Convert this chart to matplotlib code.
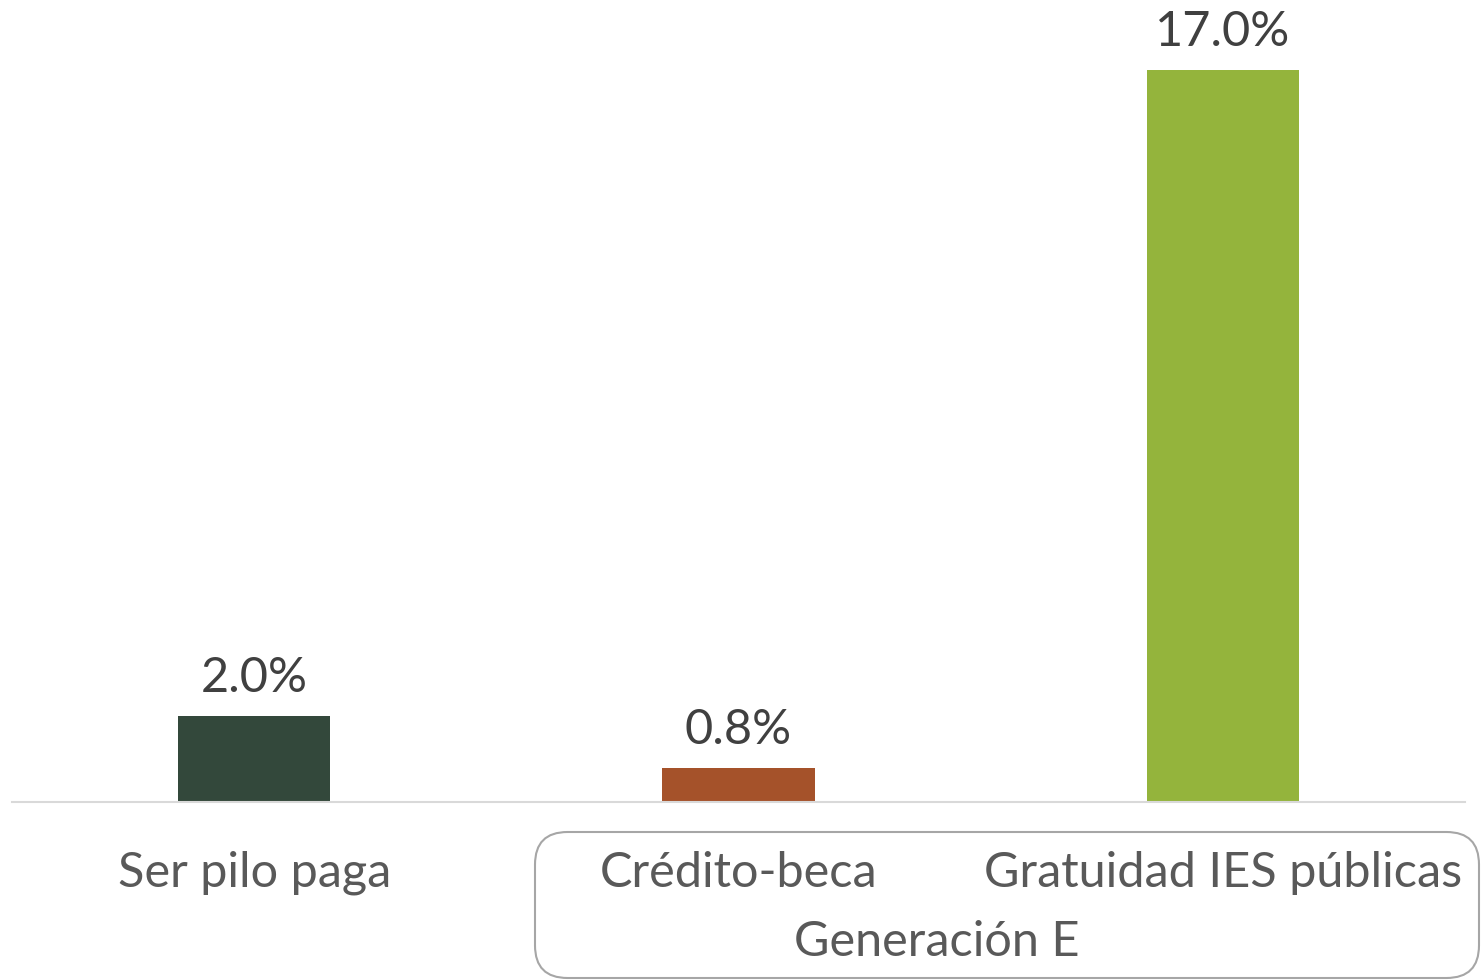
import matplotlib.pyplot as plt
from matplotlib.patches import FancyBboxPatch

categories = ['Ser pilo paga', 'Crédito-beca', 'Gratuidad IES públicas']
values = [2.0, 0.8, 17.0]
bar_colors = ['#33483B', '#A5522A', '#94B43C']
group_label = 'Generación E'

plt.rcParams['font.family'] = ['Lato', 'DejaVu Sans']

fig = plt.figure(figsize=(14.81, 9.8), dpi=100)
ax = fig.add_axes([12 / 1481, 178 / 980, 1453 / 1481, 802 / 980])

x = range(len(categories))
bars = ax.bar(x, values, width=0.314, color=bar_colors)
ax.set_xlim(-0.5, len(categories) - 0.5)
ax.set_ylim(0, 18.62)

for b, v in zip(bars, values):
    ax.annotate(f'{v:.1f}%', (b.get_x() + b.get_width() / 2, v),
                xytext=(0, 27), textcoords='offset points',
                ha='center', va='center', fontsize=35, color='#404040')

for s in ['top', 'right', 'left']:
    ax.spines[s].set_visible(False)
ax.spines['bottom'].set_color('#D9D9D9')
ax.spines['bottom'].set_linewidth(1.5)
ax.set_yticks([])
ax.set_xticks(list(x))
ax.set_xticklabels(categories, fontsize=35, color='#595959')
ax.tick_params(axis='x', length=0, pad=35)

# group bracket for Generación E (rounded box, pixel geometry of the figure)
W, H = 1481, 980
box = FancyBboxPatch((535 / W, 1 - 978 / H), (1479 - 535) / W, (978 - 832) / H,
                     boxstyle='round,pad=0,rounding_size=0.022',
                     transform=fig.transFigure, fill=False,
                     edgecolor='#A6A6A6', linewidth=1.5, clip_on=False,
                     mutation_aspect=W / H)
fig.patches.append(box)
fig.text(937 / W, 1 - 942 / H, group_label, ha='center', va='center',
         fontsize=35, color='#595959')

fig.savefig('out.png', dpi=100)
